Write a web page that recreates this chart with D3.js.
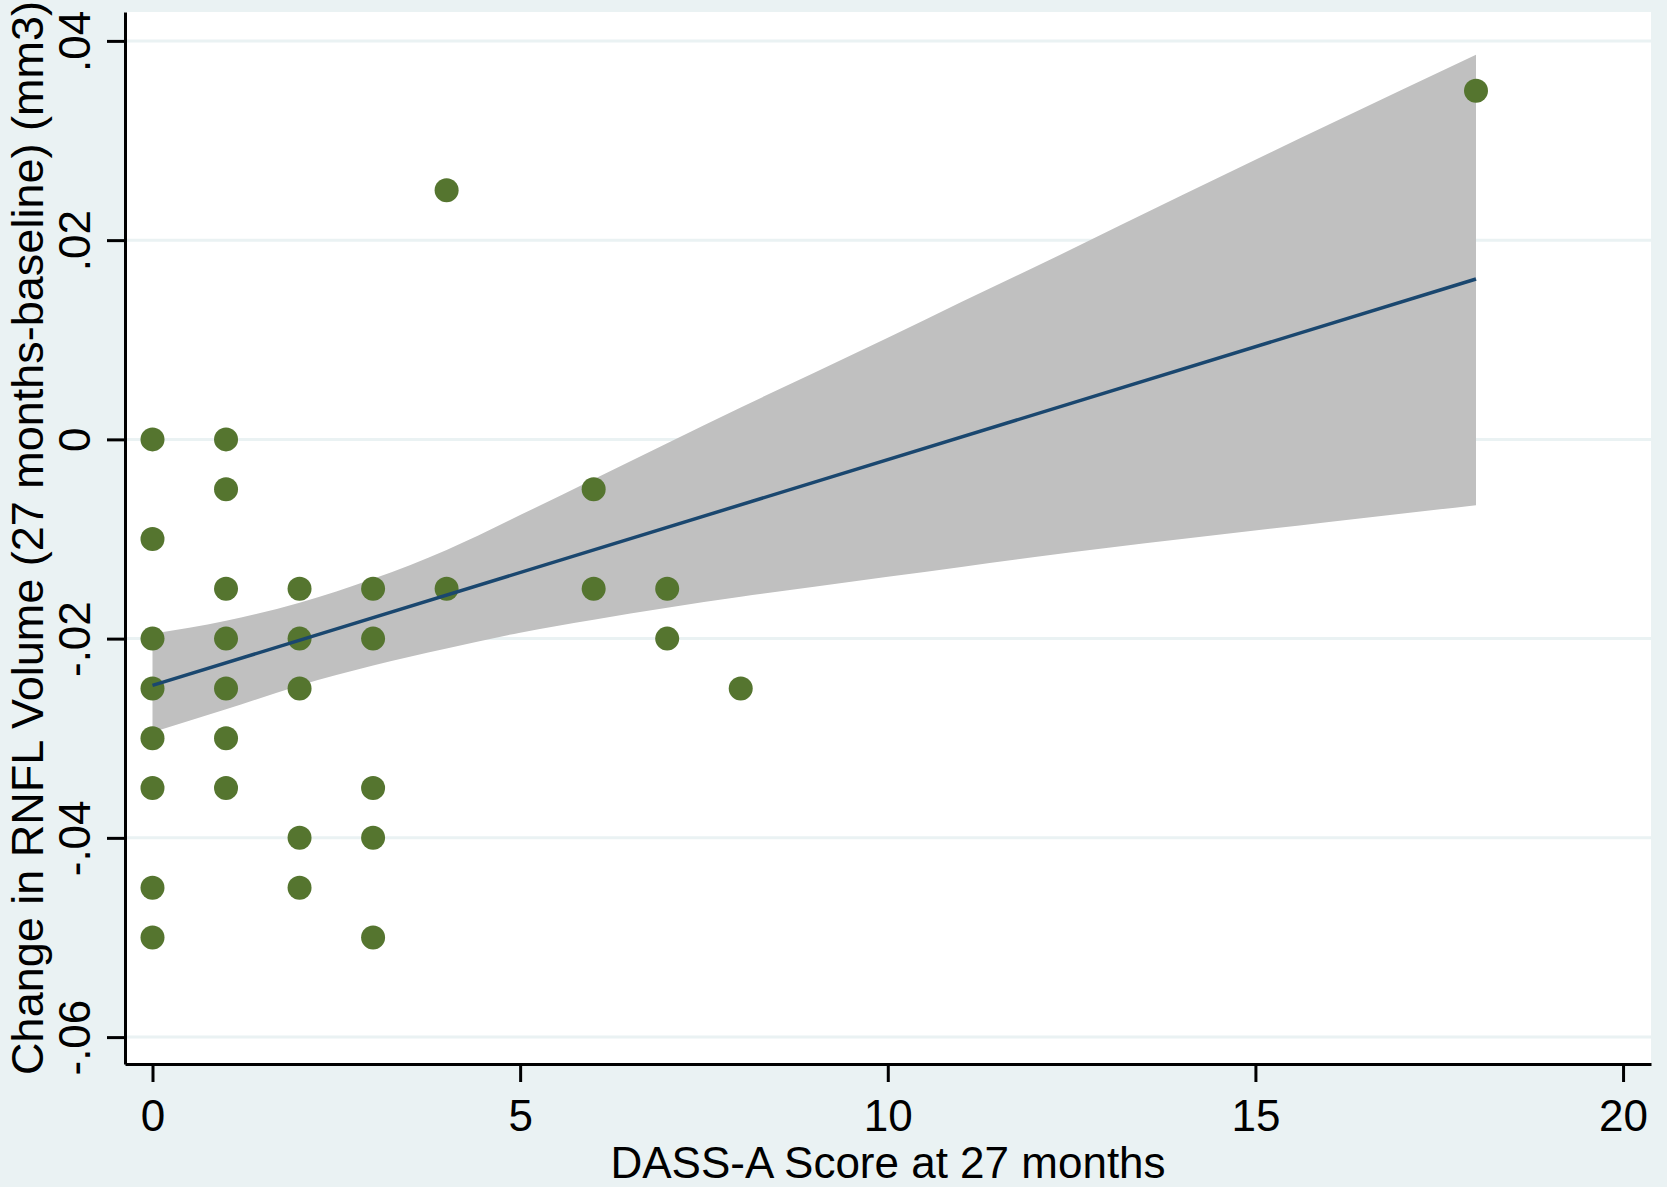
<!DOCTYPE html>
<html>
<head>
<meta charset="utf-8">
<script src="https://cdn.jsdelivr.net/npm/d3@7"></script>
<style>
	body { margin: 0; background: #eaf2f3; }
	text { font-family: "Liberation Sans", Arial, sans-serif; fill: #000; }
</style>
</head>
<body>
<svg id="viz"></svg>
<script>
/* data */
var scoreX = [0, 0, 0, 0, 0, 0, 0, 0,
	1, 1, 1, 1, 1, 1, 1,
	2, 2, 2, 2, 2,
	3, 3, 3, 3, 3,
	4, 4, 6, 6, 7, 7, 8, 18];
var changeY = [0, -0.01, -0.02, -0.025, -0.03, -0.035, -0.045, -0.05,
	0, -0.005, -0.015, -0.02, -0.025, -0.03, -0.035,
	-0.015, -0.02, -0.025, -0.04, -0.045,
	-0.015, -0.02, -0.035, -0.04, -0.05,
	0.025, -0.015, -0.005, -0.015, -0.015, -0.02, -0.025, 0.035];

var fitX = [0, 18];
var fitY = [-0.0247, 0.0161];

var bandX = [0, 1, 2, 3, 4, 5, 6, 7, 8, 9, 10, 11, 12, 14, 16, 18];
var bandUpper = [-0.0195, -0.0182, -0.0164, -0.0140, -0.0111, -0.0076, -0.0040, -0.0004,
	0.0032, 0.0067, 0.0102, 0.0138, 0.0173, 0.0245, 0.0316, 0.0386];
var bandLower = [-0.0294, -0.0271, -0.0247, -0.0227, -0.0210, -0.0194, -0.0181, -0.0169,
	-0.0158, -0.0148, -0.0138, -0.0128, -0.0118, -0.0100, -0.0083, -0.0066];

var xTicks = [0, 5, 10, 15, 20];
var yTicks = [-0.06, -0.04, -0.02, 0, 0.02, 0.04];
var yTickLabels = ["-.06", "-.04", "-.02", "0", ".02", ".04"];

var xTitle = "DASS-A Score at 27 months";
var yTitle = "Change in RNFL Volume (27 months-baseline) (mm3)";

/* create svg */
var W = 1667, H = 1187;
var margin = { top: 12, right: 16, bottom: 123, left: 125 },
	width = W - margin.left - margin.right,
	height = H - margin.top - margin.bottom;

var svg = d3.select('#viz')
	.attr('width', W)
	.attr('height', H);

svg.append('rect')
	.attr('width', W)
	.attr('height', H)
	.attr('fill', '#eaf2f3');

var g = svg.append('g')
	.attr('transform', 'translate(' + margin.left + ',' + margin.top + ')');

var x = d3.scaleLinear()
	.domain([-0.374, 20.38])
	.range([0, width]);

var y = d3.scaleLinear()
	.domain([-0.0627, 0.0429])
	.range([height, 0]);

/* plot region */
g.append('rect')
	.attr('width', width)
	.attr('height', height)
	.attr('fill', '#fff');

/* grid */
g.selectAll('.grid')
	.data(yTicks)
	.enter().append('line')
	.attr('class', 'grid')
	.attr('x1', 0)
	.attr('x2', width)
	.attr('y1', function(d){ return y(d); })
	.attr('y2', function(d){ return y(d); })
	.attr('stroke', '#eaf2f3')
	.attr('stroke-width', 3);

/* confidence band */
var bandData = bandX.map(function(d, i){
	return { x: d, lo: bandLower[i], hi: bandUpper[i] };
});

var area = d3.area()
	.x(function(d){ return x(d.x); })
	.y0(function(d){ return y(d.lo); })
	.y1(function(d){ return y(d.hi); })
	.curve(d3.curveMonotoneX);

g.append('path')
	.attr('d', area(bandData))
	.attr('fill', '#c0c0c0');

/* points */
g.selectAll('.point')
	.data(scoreX)
	.enter().append('circle')
	.attr('class', 'point')
	.attr('cx', function(d){ return x(d); })
	.attr('cy', function(d, i){ return y(changeY[i]); })
	.attr('r', 12)
	.attr('fill', '#55752f');

/* fitted line */
var line = d3.line()
	.x(function(d, i){ return x(d); })
	.y(function(d, i){ return y(fitY[i]); });

g.append('path')
	.attr('d', line(fitX))
	.attr('fill', 'none')
	.attr('stroke', '#1a476f')
	.attr('stroke-width', 3.5);

/* axes */
var xAxis = d3.axisBottom(x)
	.tickValues(xTicks)
	.tickSize(18)
	.tickSizeOuter(0);

var yAxis = d3.axisLeft(y)
	.tickValues(yTicks)
	.tickSize(18)
	.tickSizeOuter(0)
	.tickFormat(function(d, i){ return yTickLabels[i]; });

var gx = g.append('g')
	.attr('transform', 'translate(0,' + height + ')')
	.call(xAxis);

var gy = g.append('g')
	.call(yAxis);

[gx, gy].forEach(function(ax){
	ax.select('.domain').attr('stroke', '#000').attr('stroke-width', 3);
	ax.selectAll('.tick line').attr('stroke', '#000').attr('stroke-width', 3);
	ax.selectAll('text')
		.style('font-family', '"Liberation Sans", Arial, sans-serif')
		.style('font-size', '44px')
		.attr('fill', '#000');
});

gx.selectAll('.tick text')
	.attr('dy', null)
	.attr('y', 1131 - 1064);

gy.selectAll('.tick text')
	.attr('x', null)
	.attr('dy', null)
	.attr('text-anchor', 'middle')
	.attr('transform', 'translate(' + (90 - margin.left) + ',0) rotate(-90)');

/* titles */
svg.append('text')
	.attr('x', margin.left + width / 2)
	.attr('y', 1178)
	.attr('text-anchor', 'middle')
	.style('font-size', '44px')
	.text(xTitle);

svg.append('text')
	.attr('transform', 'translate(43,' + (margin.top + height / 2) + ') rotate(-90)')
	.attr('text-anchor', 'middle')
	.style('font-size', '45px')
	.text(yTitle);
</script>
</body>
</html>
